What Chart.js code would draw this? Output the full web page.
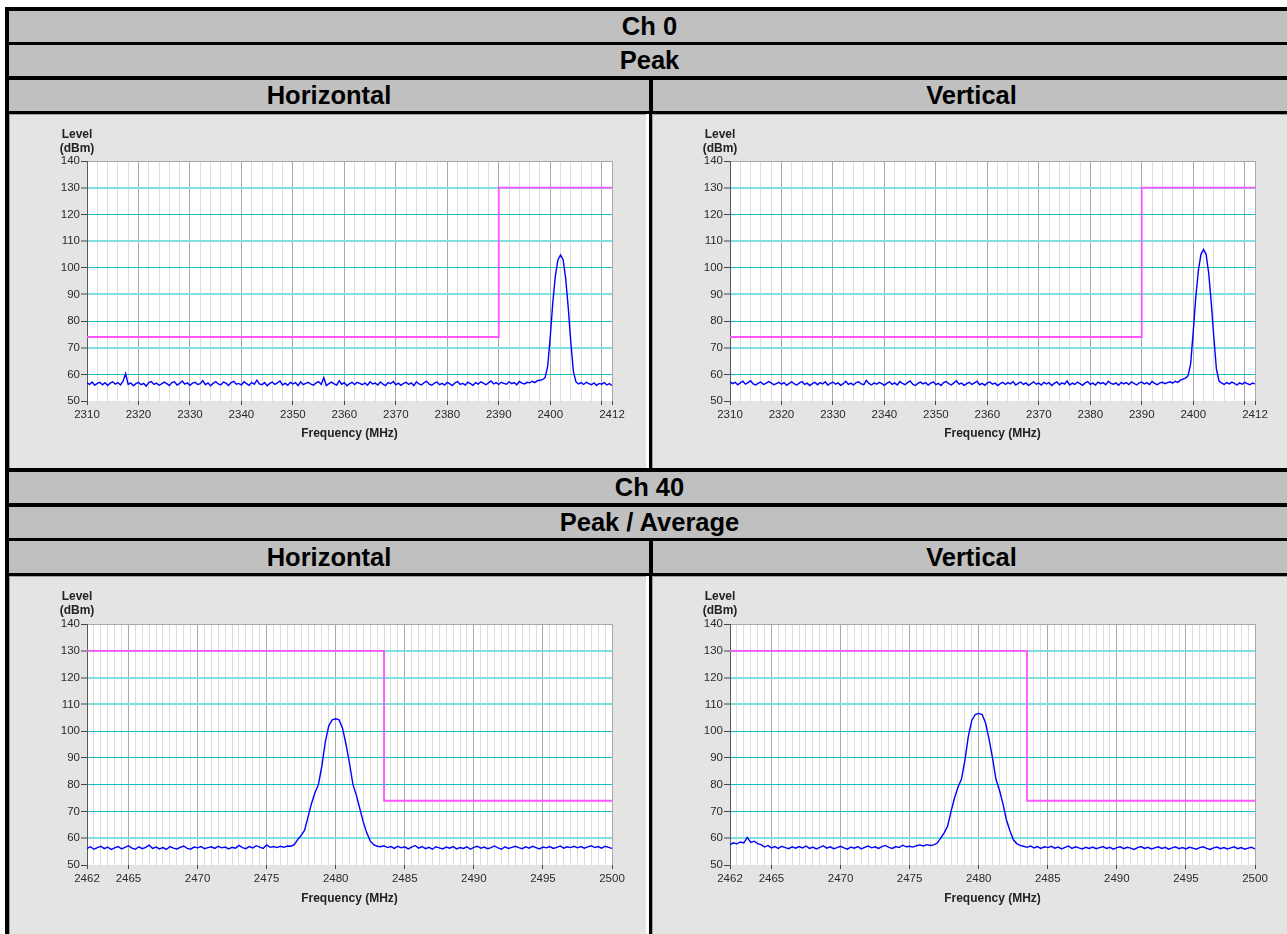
<!DOCTYPE html>
<html><head><meta charset="utf-8">
<script src="https://cdn.jsdelivr.net/npm/chart.js@4.4.1/dist/chart.umd.min.js"></script>
<style>
html,body{margin:0;padding:0;background:#fff;width:1287px;height:934px;overflow:hidden;position:relative;font-family:Arial,"Liberation Sans",sans-serif;}
.blk{position:absolute;background:#000;}
.hdr{position:absolute;background:#c0c0c0;display:flex;align-items:center;justify-content:center;font-weight:bold;font-size:25.5px;color:#000;}
.cell{position:absolute;background:#fff;}
.panel{position:absolute;background:#e4e4e4;border-left:1px solid #a0a0a0;border-top:1px solid #a0a0a0;box-sizing:border-box;}
.cv{position:absolute;}
.ylab{position:absolute;width:60px;text-align:center;font-weight:bold;font-size:12px;line-height:14px;color:#222;}
</style></head><body>
<div class="blk" style="left:5px;top:7px;width:1300px;height:940px;"></div>
<div class="hdr" style="left:9px;top:11px;width:1281px;height:31px;">Ch 0</div>
<div class="hdr" style="left:9px;top:45px;width:1281px;height:31px;">Peak</div>
<div class="hdr" style="left:9px;top:80px;width:640px;height:31px;">Horizontal</div>
<div class="hdr" style="left:653px;top:80px;width:637px;height:31px;">Vertical</div>
<div class="cell" style="left:9px;top:114px;width:640px;height:354px;"></div>
<div class="panel" style="left:9px;top:114px;width:637px;height:354px;"></div>
<div class="panel" style="left:652px;top:114px;width:640px;height:354px;"></div>
<div class="hdr" style="left:9px;top:472px;width:1281px;height:31px;">Ch 40</div>
<div class="hdr" style="left:9px;top:507px;width:1281px;height:31px;">Peak / Average</div>
<div class="hdr" style="left:9px;top:541px;width:640px;height:32px;">Horizontal</div>
<div class="hdr" style="left:653px;top:541px;width:637px;height:32px;">Vertical</div>
<div class="cell" style="left:9px;top:576px;width:640px;height:360px;"></div>
<div class="panel" style="left:9px;top:576px;width:637px;height:360px;"></div>
<div class="panel" style="left:652px;top:576px;width:640px;height:360px;"></div>

<canvas id="c0h" class="cv" width="637" height="354" style="left:9px;top:114px;"></canvas>
<canvas id="c0v" class="cv" width="637" height="354" style="left:652px;top:114px;"></canvas>
<canvas id="c40h" class="cv" width="637" height="358" style="left:9px;top:576px;"></canvas>
<canvas id="c40v" class="cv" width="637" height="358" style="left:652px;top:576px;"></canvas>

<div class="ylab" style="left:47px;top:127px;">Level<br>(dBm)</div>
<div class="ylab" style="left:690px;top:127px;">Level<br>(dBm)</div>
<div class="ylab" style="left:47px;top:589px;">Level<br>(dBm)</div>
<div class="ylab" style="left:690px;top:589px;">Level<br>(dBm)</div>

<script>
// ---------- data ----------
const ch0Start = 2310, ch0Step = 0.5;      // sweep grid (MHz)
const ch40Start = 2462, ch40Step = 0.25;

const ch0HorizontalLevel = [
56.8,56.2,57.1,55.9,56.6,57.0,56.1,56.9,55.8,56.7,57.2,56.3,56.9,56.0,57.4,60.3,56.2,56.8,55.7,56.5,
57.0,56.1,56.6,55.6,56.9,57.3,56.2,56.7,55.9,56.4,57.1,56.5,55.8,56.9,57.2,56.0,56.6,57.5,56.3,56.8,
55.9,56.7,57.0,56.2,56.5,57.6,56.1,56.8,55.7,56.6,57.3,56.4,56.0,57.1,56.7,55.8,56.9,57.4,56.3,56.6,
56.0,57.2,56.5,55.9,57.0,56.3,57.8,56.4,56.1,56.9,55.7,56.6,57.1,56.2,56.8,57.5,56.0,56.7,55.9,57.0,
56.4,56.9,55.8,57.2,56.1,56.6,57.0,56.3,55.9,56.8,57.3,56.2,58.8,55.8,56.5,57.1,56.4,56.0,57.6,56.3,
56.9,55.7,56.5,57.0,56.2,57.0,56.6,56.1,56.8,55.9,57.2,56.4,56.7,56.0,57.1,56.3,55.8,56.9,56.5,57.3,
56.1,56.7,55.9,56.6,57.0,56.2,56.8,55.8,57.2,56.4,56.0,56.9,57.4,56.3,55.9,56.7,57.1,56.1,56.6,56.0,
57.0,56.4,55.8,56.8,57.3,56.2,56.6,56.0,57.1,56.5,55.9,56.9,56.3,57.2,56.7,56.1,56.8,57.5,56.4,56.9,
56.2,57.0,56.6,56.3,57.2,56.5,56.9,56.1,57.3,56.7,56.4,57.0,56.8,57.4,56.9,57.6,57.8,
58.0,58.8,63,74,87,97,103,104.8,103,96,85,72,61,57.2,
56.4,56.9,56.2,57.0,56.5,56.1,56.8,55.9,56.6,56.3,56.9,56.0,56.5,55.8];

const ch0VerticalLevel = [
57.2,56.5,57.0,56.1,56.8,57.4,56.3,56.9,57.6,56.4,56.0,56.7,57.1,56.2,56.6,57.3,56.8,56.1,56.5,57.0,
56.3,56.9,55.9,56.6,57.2,56.4,56.0,56.8,57.3,56.2,56.7,55.8,56.5,57.0,56.1,56.9,56.4,57.2,56.0,56.6,
57.1,56.3,56.8,55.9,56.5,57.4,56.2,56.7,56.0,56.9,57.2,56.4,56.1,57.7,56.6,56.0,56.8,56.3,57.0,56.5,
55.9,56.7,57.2,56.2,56.8,56.0,57.3,56.6,56.1,56.9,57.5,56.3,55.8,56.6,57.1,56.4,56.9,56.0,56.7,57.2,
56.1,56.6,55.8,56.9,57.3,56.5,56.0,56.8,57.6,56.3,56.7,55.9,56.5,57.0,56.2,56.8,57.4,56.1,56.6,55.9,
56.8,57.1,56.3,56.7,55.8,56.5,57.0,56.2,56.9,56.4,57.3,56.0,56.6,57.1,56.2,56.8,55.9,56.5,57.2,56.3,
56.7,56.0,57.0,56.4,56.9,55.8,56.6,57.2,56.1,56.8,56.3,57.5,56.0,56.7,56.2,57.1,56.5,55.9,56.8,57.3,
56.2,56.7,56.0,57.1,56.5,56.9,56.1,57.4,56.6,56.3,56.8,55.9,57.0,56.4,56.9,56.2,57.2,56.6,56.0,56.8,
57.1,56.4,56.9,56.2,57.3,56.6,56.1,56.8,57.0,56.5,56.9,57.2,56.7,57.4,57.0,57.8,58.2,
58.6,59.5,64,76,89,99,105,106.8,105,98,87,74,62,57.5,
56.8,56.2,56.9,56.4,57.1,56.6,56.0,56.8,56.3,57.0,56.5,56.1,56.7,56.4];

const ch40HorizontalLevel = [
56.2,56.8,55.9,56.5,57.0,56.1,56.7,55.8,56.4,56.9,56.0,56.6,57.2,56.3,55.9,56.8,56.1,56.6,57.4,56.2,
56.7,56.0,56.5,55.8,56.9,56.3,56.0,56.6,57.1,56.2,55.9,56.7,56.4,56.9,56.1,56.5,56.8,56.2,57.0,56.4,
56.7,56.0,56.6,56.3,57.3,56.5,56.1,56.9,56.4,57.2,56.7,56.2,57.5,56.6,56.9,56.5,57.0,56.6,57.1,
57.0,57.6,59.5,61,63,68,73,77,80,87,96,102,104.2,104.6,104.2,101,95,88,80,76,71,66,62,59,57.6,57.0,
56.8,57.2,56.5,56.9,56.2,57.0,56.4,56.8,56.0,56.7,57.3,56.3,56.9,56.1,56.6,55.9,56.8,56.4,56.0,56.7,
56.3,56.9,56.0,56.5,56.2,56.8,55.9,56.6,57.0,56.3,56.7,56.1,56.5,57.1,56.4,55.9,56.8,56.2,56.6,57.0,
56.5,56.1,56.8,56.3,57.0,56.5,56.0,56.7,56.4,56.9,56.2,56.6,57.1,56.3,56.8,56.5,57.0,56.4,56.9,56.3,
56.8,57.2,56.5,56.9,56.3,57.0,56.6,56.2];

const ch40VerticalLevel = [
57.6,58.3,57.9,58.6,58.2,60.3,58.4,58.9,58.0,57.6,56.7,57.3,56.4,56.9,56.2,57.0,56.5,56.1,56.8,56.3,
56.9,56.4,57.1,56.2,56.7,56.0,56.6,57.2,56.3,56.8,56.1,56.5,57.0,56.4,55.9,56.7,56.3,56.9,56.0,56.6,
57.1,56.4,56.8,56.2,56.9,57.3,56.6,56.2,56.9,56.5,57.4,56.8,57.0,56.7,57.2,57.5,57.1,57.6,57.3,
57.5,58.2,60,62,64.5,70,75,79,82,89,98,104,106.2,106.6,106.2,103,97,90,82,78,73,67,63,59.5,58,57.3,
57.0,56.6,57.1,56.4,56.9,56.2,56.8,56.5,57.0,56.3,56.7,56.0,56.6,57.1,56.2,56.8,56.4,56.0,56.6,56.2,
56.7,56.1,56.5,56.9,56.2,56.6,55.9,56.5,56.8,56.1,56.6,56.3,55.8,56.5,56.9,56.2,56.6,56.0,56.4,56.8,
56.2,56.6,55.9,56.4,56.8,56.1,56.5,56.0,56.6,56.3,55.9,56.5,56.8,56.2,55.8,56.4,56.7,56.1,56.5,56.0,
56.4,56.8,56.1,56.5,55.9,56.3,56.6,56.0];

// limit lines
const limitCh0Freq = [2310, 2390, 2390, 2412];
const limitCh0Level = [74, 74, 130, 130];
const limitCh40Freq = [2462, 2483.5, 2483.5, 2500];
const limitCh40Level = [130, 130, 74, 74];

// axis ticks
const yMin = 50, yMax = 140, yStep = 10;
const ch0TickValues = [2310,2320,2330,2340,2350,2360,2370,2380,2390,2400,2410,2412];
const ch0TickLabels = ['2310','2320','2330','2340','2350','2360','2370','2380','2390','2400','','2412'];
const ch0MinorStep = 2;
const ch40TickValues = [2462,2465,2470,2475,2480,2485,2490,2495,2500];
const ch40TickLabels = ['2462','2465','2470','2475','2480','2485','2490','2495','2500'];
const ch40MinorStep = 0.5;

// ---------- styles ----------
const CY_D = '#12c1c1', CY_L = '#80dfdf', EDGE = '#a9a9a9', NONE = 'rgba(0,0,0,0)';
// y grid (50..140): mimic the light/dark cyan rendering of the original
const ch0YGridColor  = [NONE, CY_D, CY_L, CY_D, CY_L, CY_D, CY_L, CY_D, CY_L, EDGE];
const ch0YGridWidth  = [1, 1, 2, 1, 2, 1, 2, 1, 2, 1];
const ch40YGridColor = [NONE, CY_L, CY_D, CY_D, CY_D, CY_D, CY_L, CY_L, CY_L, EDGE];
const ch40YGridWidth = [1, 2, 1, 1, 1, 1, 2, 2, 2, 1];

const plotBg = {
  id: 'plotBg',
  beforeDraw(chart) {
    const {ctx, chartArea: a} = chart;
    ctx.save(); ctx.fillStyle = '#ffffff';
    ctx.fillRect(a.left, a.top, a.right - a.left, a.bottom - a.top);
    ctx.restore();
  }
};

function makeChart(id, start, step, levels, limF, limL, tickVals, tickLabels, minorStep, yCol, yWid, padTop, padBottom, titlePad) {
  const xMin = tickVals[0], xMax = tickVals[tickVals.length - 1];
  const trace = levels.map((y, i) => ({x: start + i * step, y}));
  const limit = limF.map((x, i) => ({x, y: limL[i]}));
  new Chart(document.getElementById(id), {
    type: 'line',
    data: {datasets: [
      {data: limit, borderColor: '#ff55ff', borderWidth: 1.8, pointRadius: 0, tension: 0},
      {data: trace, borderColor: '#0000ff', borderWidth: 1.4, pointRadius: 0, tension: 0}
    ]},
    options: {
      responsive: false, animation: false,
      layout: {padding: {top: padTop, left: 0, right: 34, bottom: padBottom}},
      plugins: {legend: {display: false}, tooltip: {enabled: false}},
      scales: {
        x: {
          type: 'linear', min: xMin, max: xMax,
          afterBuildTicks: (s) => {
            const t = [];
            const n = Math.round((xMax - xMin) / minorStep);
            for (let i = 0; i <= n; i++) t.push({value: +(xMin + i * minorStep).toFixed(3)});
            s.ticks = t;
          },
          afterFit: (s) => { s.height = 60; },
          border: {display: false},
          grid: {
            color: (c) => {
              const v = c.tick ? c.tick.value : null;
              return tickVals.includes(v) ? EDGE : '#dcdcdc';
            },
            tickColor: (c) => {
              const v = c.tick ? c.tick.value : null;
              return tickVals.includes(v) ? '#444444' : NONE;
            },
            tickLength: 4, lineWidth: 1
          },
          ticks: {
            autoSkip: false, maxRotation: 0, minRotation: 0, padding: 3,
            color: '#2a2a2a', font: {family: 'Arial', size: 11.5},
            callback: (v) => { const i = tickVals.indexOf(v); return i >= 0 ? tickLabels[i] : ''; }
          },
          title: {display: true, text: 'Frequency (MHz)', color: '#222222',
                  font: {family: 'Arial', size: 12, weight: 'bold'}, padding: {top: 0, bottom: titlePad}}
        },
        y: {
          min: yMin, max: yMax,
          afterFit: (s) => { s.width = 78; },
          border: {display: true, color: '#5a5a5a', width: 1},
          grid: {color: yCol, lineWidth: yWid, tickColor: '#444444', tickWidth: 1, tickLength: 6},
          ticks: {stepSize: yStep, padding: 1, color: '#2a2a2a', font: {family: 'Arial', size: 11.5}}
        }
      }
    },
    plugins: [plotBg]
  });
}

makeChart('c0h', ch0Start, ch0Step, ch0HorizontalLevel, limitCh0Freq, limitCh0Level, ch0TickValues, ch0TickLabels, ch0MinorStep, ch0YGridColor, ch0YGridWidth, 47, 7, 20);
makeChart('c0v', ch0Start, ch0Step, ch0VerticalLevel, limitCh0Freq, limitCh0Level, ch0TickValues, ch0TickLabels, ch0MinorStep, ch0YGridColor, ch0YGridWidth, 47, 7, 20);
makeChart('c40h', ch40Start, ch40Step, ch40HorizontalLevel, limitCh40Freq, limitCh40Level, ch40TickValues, ch40TickLabels, ch40MinorStep, ch40YGridColor, ch40YGridWidth, 48, 9, 19);
makeChart('c40v', ch40Start, ch40Step, ch40VerticalLevel, limitCh40Freq, limitCh40Level, ch40TickValues, ch40TickLabels, ch40MinorStep, ch40YGridColor, ch40YGridWidth, 48, 9, 19);
</script>
</body></html>
